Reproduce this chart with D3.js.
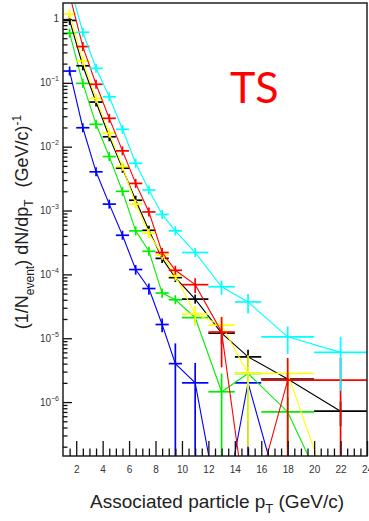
<!DOCTYPE html>
<html>
<head>
<meta charset="utf-8">
<script src="https://cdn.jsdelivr.net/npm/d3@7"></script>
<style>
  body { margin: 0; background: #fff; }
  svg { display: block; }
</style>
</head>
<body>
<div id="chart"></div>
<script>
// bins in associated pT (GeV/c)
const binLow    = [1, 2, 3, 4, 5, 6, 7, 8, 9, 10, 12, 14, 16, 20];
const binHigh   = [2, 3, 4, 5, 6, 7, 8, 9, 10, 12, 14, 16, 20, 24];
const binCenter = [1.5, 2.5, 3.5, 4.5, 5.5, 6.5, 7.5, 8.5, 9.5, 11, 13, 15, 18, 22];

// yields per bin (0 = empty bin)
const blueVals   = [0.153, 0.0198, 0.00404, 0.00126, 4.1e-4, 1.19e-4, 6.0e-5, 1.64e-5, 4.0e-6, 2.0e-6, 0, 2.0e-6, 0, 0];
const blueErrs   = [0.008, 0.0015, 4e-4, 1.5e-4, 6e-5, 2e-5, 1.2e-5, 4e-6, 4.3e-6, 2.1e-6, 0, 2.1e-6, 0, 0];
const greenVals  = [0.60, 0.098, 0.0224, 0.0070, 0.0020, 4.8e-4, 2.3e-4, 5.1e-5, 4.0e-5, 2.1e-5, 1.45e-6, 2.8e-6, 7.0e-7, 0];
const greenErrs  = [0.02, 0.004, 0.001, 4e-4, 1.2e-4, 4e-5, 2e-5, 8e-6, 6e-6, 5e-6, 1.35e-6, 2.3e-6, 5e-7, 0];
const blackVals  = [0.95, 0.185, 0.050, 0.0143, 0.0046, 0.00145, 4.9e-4, 1.78e-4, 8.9e-5, 4.1e-5, 1.2e-5, 5.1e-6, 2.3e-6, 7.2e-7];
const blackErrs  = [0.02, 0.005, 0.002, 6e-4, 2e-4, 6e-5, 2.5e-5, 1.2e-5, 8e-6, 5e-6, 4e-6, 1.5e-6, 5e-7, 3e-7];
const yellowVals = [1.2, 0.22, 0.057, 0.0163, 0.0049, 0.00126, 4.4e-4, 2.0e-4, 9.4e-5, 2.4e-5, 1.6e-5, 2.8e-6, 2.8e-6, 0];
const yellowErrs = [0.03, 0.006, 0.002, 7e-4, 2.5e-4, 7e-5, 3e-5, 1.5e-5, 1e-5, 8e-6, 6e-6, 2.6e-6, 1.5e-6, 0];
const redVals    = [2.4, 0.37, 0.095, 0.0278, 0.0086, 0.00266, 9.5e-4, 2.2e-4, 1.16e-4, 6.9e-5, 1.25e-5, 0, 2.2e-6, 2.2e-6];
const redErrs    = [0.05, 0.01, 0.003, 0.001, 3e-4, 1e-4, 4e-5, 2e-5, 1.5e-5, 1.8e-5, 9e-6, 0, 2.7e-6, 2.7e-6];
const cyanVals   = [3.5, 0.62, 0.169, 0.0605, 0.0187, 0.0055, 0.0021, 8.7e-4, 4.8e-4, 2.2e-4, 6.4e-5, 3.7e-5, 1.05e-5, 6.0e-6];
const cyanErrs   = [0.05, 0.01, 0.003, 0.001, 4e-4, 1.2e-4, 5e-5, 3e-5, 2e-5, 1.5e-5, 1.6e-5, 1.25e-5, 4.8e-6, 4.5e-6];

const xTickLabels = [2, 4, 6, 8, 10, 12, 14, 16, 18, 20, 22, 24];
const yDecades = [0, -1, -2, -3, -4, -5, -6];

// drawing order matters (cyan ends on top)
const series = [
  { color: '#0000ff', vals: blueVals,   errs: blueErrs },
  { color: '#00ee00', vals: greenVals,  errs: greenErrs },
  { color: '#000000', vals: blackVals,  errs: blackErrs },
  { color: '#ffff00', vals: yellowVals, errs: yellowErrs },
  { color: '#ff0000', vals: redVals,    errs: redErrs },
  { color: '#00ffff', vals: cyanVals,   errs: cyanErrs }
];

const width = 369, height = 521;
const plotLeft = 63, plotRight = 367, plotTop = 3, plotBottom = 456;
const zeroFloor = 1.2e-8; // where ROOT puts empty bins on a log axis
const markerHalf = 4.5;

const svg = d3.select('#chart').append('svg')
  .attr('width', width)
  .attr('height', height);

const x = d3.scaleLinear().domain([1, 24]).range([plotLeft, plotRight]);
const y = d3.scaleLog().domain([1.43e-7, 1.78]).range([plotBottom, plotTop]);

svg.append('defs').append('clipPath').attr('id', 'plotClip')
  .append('rect')
  .attr('x', plotLeft).attr('y', plotTop)
  .attr('width', plotRight - plotLeft).attr('height', plotBottom - plotTop);

const plot = svg.append('g').attr('clip-path', 'url(#plotClip)');

const line = d3.line()
  .x(d => x(d.c))
  .y(d => y(Math.max(d.v, zeroFloor)));

series.forEach(s => {
  const pts = binCenter.map((c, i) => ({ c, lo: binLow[i], hi: binHigh[i], v: s.vals[i], e: s.errs[i] }));
  const g = plot.append('g');

  g.append('path')
    .attr('d', line(pts))
    .attr('fill', 'none')
    .attr('stroke', s.color)
    .attr('stroke-width', 1.1);

  const filled = pts.filter(d => d.v > 0);

  // horizontal bars = bin width
  g.selectAll('line.h')
    .data(filled)
    .enter()
    .append('line')
    .attr('x1', d => x(d.lo))
    .attr('x2', d => x(d.hi))
    .attr('y1', d => y(d.v))
    .attr('y2', d => y(d.v))
    .attr('stroke', s.color)
    .attr('stroke-width', 1.7);

  // vertical error bars, at least marker size
  g.selectAll('line.v')
    .data(filled)
    .enter()
    .append('line')
    .attr('x1', d => x(d.c))
    .attr('x2', d => x(d.c))
    .attr('y1', d => Math.min(y(d.v + d.e), y(d.v) - markerHalf))
    .attr('y2', d => Math.max(y(Math.max(d.v - d.e, zeroFloor)), y(d.v) + markerHalf))
    .attr('stroke', s.color)
    .attr('stroke-width', 1.7);
});

// frame
svg.append('rect')
  .attr('x', plotLeft).attr('y', plotTop)
  .attr('width', plotRight - plotLeft).attr('height', plotBottom - plotTop)
  .attr('fill', 'none')
  .attr('stroke', '#222')
  .attr('stroke-width', 1.5);

// x axis ticks (inside)
const xMinor = d3.range(1.5, 24.01, 0.5).filter(v => v % 2 !== 0);
const xAxis = svg.append('g').attr('transform', `translate(0,${plotBottom})`);
xAxis.call(d3.axisBottom(x).tickValues(xTickLabels).tickSize(-15).tickPadding(10).tickFormat(d3.format('d')));
xAxis.append('g').call(d3.axisBottom(x).tickValues(xMinor).tickSize(-7.5).tickFormat(''));
xAxis.selectAll('.domain').remove();
xAxis.selectAll('line').attr('stroke', '#111').attr('stroke-width', 1.3);
xAxis.selectAll('text')
  .attr('font-family', 'Liberation Sans, Arial, sans-serif')
  .attr('font-size', 10)
  .attr('fill', '#333');

// y axis ticks (inside)
const yMajor = yDecades.map(p => Math.pow(10, p));
const yMinor = [];
for (let p = -7; p <= 0; p++) {
  for (let m = 2; m <= 9; m++) {
    const v = m * Math.pow(10, p);
    if (v >= 1.43e-7 && v <= 1.78) yMinor.push(v);
  }
}
const yAxis = svg.append('g').attr('transform', `translate(${plotLeft},0)`);
yAxis.call(d3.axisLeft(y).tickValues(yMajor).tickSize(-9).tickFormat(''));
yAxis.append('g').call(d3.axisLeft(y).tickValues(yMinor).tickSize(-4.5).tickFormat(''));
yAxis.selectAll('.domain').remove();
yAxis.selectAll('line').attr('stroke', '#111').attr('stroke-width', 1.3);

// y tick labels: 1, 10^-1 ...
const yLab = svg.append('g')
  .attr('font-family', 'Liberation Sans, Arial, sans-serif')
  .attr('fill', '#333');
yDecades.forEach(p => {
  const t = yLab.append('text')
    .attr('x', 59)
    .attr('y', y(Math.pow(10, p)) + 3.5)
    .attr('text-anchor', 'end')
    .attr('font-size', 10);
  if (p === 0) {
    t.text('1');
  } else {
    t.append('tspan').text('10');
    t.append('tspan').attr('dy', -5).attr('font-size', 7).text('\u2212' + (-p));
  }
});

// axis titles
const xTitle = svg.append('text')
  .attr('x', 217)
  .attr('y', 508)
  .attr('text-anchor', 'middle')
  .attr('font-family', 'Liberation Sans, Arial, sans-serif')
  .attr('font-size', 19)
  .attr('fill', '#222');
xTitle.append('tspan').text('Associated particle p');
xTitle.append('tspan').attr('dy', 5).attr('font-size', 13).text('T');
xTitle.append('tspan').attr('dy', -5).text(' (GeV/c)');

const yTitle = svg.append('text')
  .attr('transform', 'translate(28,222) rotate(-90)')
  .attr('text-anchor', 'middle')
  .attr('font-family', 'Liberation Sans, Arial, sans-serif')
  .attr('font-size', 18)
  .attr('fill', '#222');
yTitle.append('tspan').text('(1/N');
yTitle.append('tspan').attr('dy', 6).attr('font-size', 12).text('event');
yTitle.append('tspan').attr('dy', -6).text(') dN/dp');
yTitle.append('tspan').attr('dy', 5).attr('font-size', 12).text('T');
yTitle.append('tspan').attr('dy', -5).attr('dx', 12).text('(GeV/c)');
yTitle.append('tspan').attr('dy', -7).attr('font-size', 12).text('-1');

// TS label
svg.append('text')
  .attr('x', 230)
  .attr('y', 103)
  .attr('font-family', 'Lato, Open Sans, sans-serif')
  .attr('font-size', 43)
  .attr('fill', '#ff0000')
  .text('TS');
</script>
</body>
</html>
